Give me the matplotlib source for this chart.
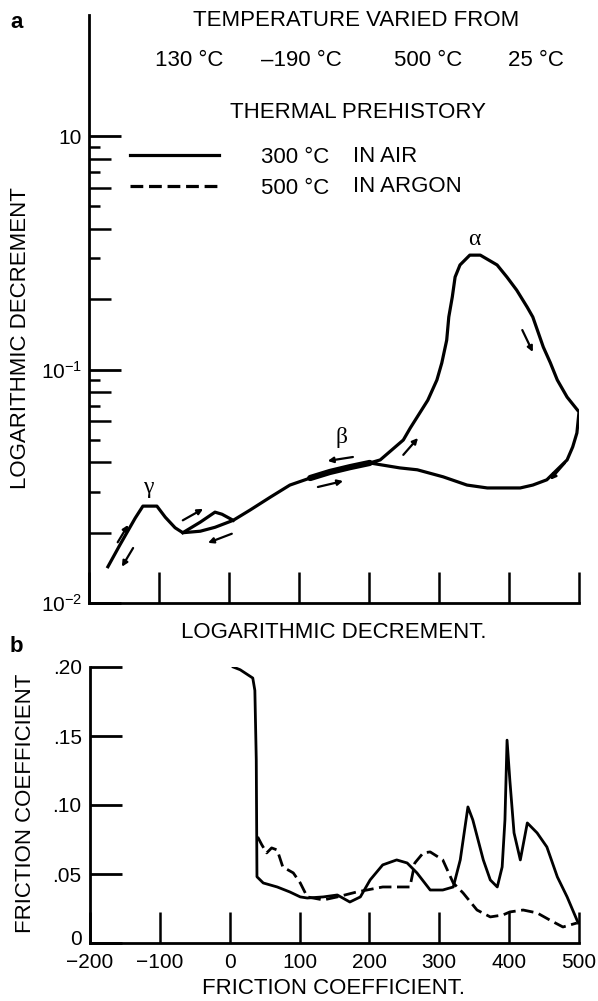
import matplotlib.pyplot as plt
import matplotlib.transforms as mtransforms

plt.rcParams['font.family'] = ['Liberation Sans', 'DejaVu Sans']
plt.rcParams['mathtext.fontset'] = 'custom'
plt.rcParams['mathtext.rm'] = 'Liberation Sans'

# (a) logarithmic decrement vs temperature, main loop (warming then cooling back)
loop_T = [-173, -156, -134, -123, -103, -91, -77, -66, -41, -20, 6, 30, 59, 87,
          116, 144, 173, 201, 216, 249, 259, 284, 297, 304, 311, 314, 319, 323,
          330, 344, 359, 383, 397, 411, 426, 434, 449, 459, 469, 483, 500, 497,
          491, 483, 454, 434, 416, 369, 340, 306, 269, 244, 201]
loop_d = [0.0143, 0.0177, 0.0231, 0.0260, 0.0260, 0.0233, 0.0210, 0.0200, 0.0203,
          0.0211, 0.0226, 0.0250, 0.0284, 0.0320, 0.0343, 0.0364, 0.0382, 0.0398,
          0.0410, 0.0499, 0.0562, 0.0739, 0.0902, 0.1067, 0.1336, 0.168, 0.2046,
          0.249, 0.2805, 0.309, 0.309, 0.2805, 0.249, 0.2188, 0.185, 0.1679,
          0.1248, 0.107, 0.0902, 0.0762, 0.0658, 0.0535, 0.0466, 0.0410, 0.0337,
          0.0320, 0.0311, 0.0311, 0.0320, 0.0347, 0.0372, 0.0379, 0.0398]
# small side branch after gamma peak
bump_T = [-66, -41, -20, -10, 6]
bump_d = [0.0200, 0.0222, 0.0245, 0.0240, 0.0226]

# direction arrows (start T, start d, end T, end d)
arrows = [(-159, 0.0182, -144, 0.0216), (-137, 0.0172, -153, 0.0143),
          (-66, 0.0226, -37, 0.0253), (4, 0.0198, -30, 0.0181),
          (177, 0.0422, 141, 0.0406), (127, 0.0314, 163, 0.0333),
          (249, 0.0431, 270, 0.0509), (419, 0.1476, 434, 0.1189),
          (480, 0.0398, 459, 0.0337)]

peak_names = ['γ', 'β', 'α']
peak_T = [-116, 161, 351]
peak_d = [0.0311, 0.0514, 0.359]

# (b) friction coefficient vs temperature
air_T = [5, 15, 33, 36, 38, 39, 48, 68, 86, 101, 111, 134, 154, 172, 187, 201,
         219, 239, 254, 268, 287, 305, 320, 330, 341, 348, 363, 373, 383, 390,
         394, 397, 401, 407, 416, 426, 440, 454, 469, 483, 497, 499]
air_f = [0.200, 0.198, 0.192, 0.183, 0.133, 0.048, 0.0435, 0.0406, 0.0370,
         0.0334, 0.0326, 0.0334, 0.0348, 0.0297, 0.0334, 0.0457, 0.0566, 0.0602,
         0.0580, 0.0508, 0.0384, 0.0384, 0.0406, 0.0602, 0.0986, 0.0892, 0.0602,
         0.0457, 0.0406, 0.0551, 0.0892, 0.147, 0.118, 0.0798, 0.0602, 0.0870,
         0.0798, 0.0696, 0.0479, 0.0334, 0.0167, 0.0145]
argon_T = [40, 46, 53, 60, 68, 76, 91, 101, 111, 134, 154, 182, 219, 258, 265,
           277, 287, 305, 320, 334, 354, 373, 391, 401, 420, 440, 458, 477, 497]
argon_f = [0.0769, 0.0711, 0.0653, 0.0689, 0.0674, 0.0551, 0.0508, 0.0435,
           0.0334, 0.0312, 0.0334, 0.0370, 0.0406, 0.0406, 0.0580, 0.0653,
           0.0660, 0.0602, 0.0435, 0.0363, 0.0239, 0.0189, 0.0203, 0.0225,
           0.0239, 0.0218, 0.0167, 0.0116, 0.0145]

temp_ticks = [-200, -100, 0, 100, 200, 300, 400, 500]
fric_ticks = [0, 0.05, 0.10, 0.15, 0.20]
fric_labels = ['0', '.05', '.10', '.15', '.20']
dec_even = [0.02, 0.04, 0.06, 0.08, 0.2, 0.4, 0.6, 0.8]
dec_odd = [0.03, 0.05, 0.07, 0.09, 0.3, 0.5, 0.7, 0.9]

FS = 16   # text
TS = 15   # tick labels
fig = plt.figure(figsize=(5.98, 10.01), dpi=100)

# ---------- panel a ----------
ax = fig.add_axes([89/598, 1 - 603/1001, 490/598, 588/1001])
ax.set_yscale('log')
ax.plot(loop_T, loop_d, color='black', lw=2.3, solid_joinstyle='round')
ax.plot(loop_T[14:18], loop_d[14:18], color='black', lw=4.5, solid_capstyle='round')
ax.plot(bump_T, bump_d, color='black', lw=2.3)
for t0, d0, t1, d1 in arrows:
    ax.annotate('', xy=(t1, d1), xytext=(t0, d0),
                arrowprops=dict(arrowstyle='-|>', lw=1.6, color='black',
                                mutation_scale=8, shrinkA=0, shrinkB=0))
for name, t, d in zip(peak_names, peak_T, peak_d):
    ax.text(t, d, name, family='Liberation Serif', fontsize=FS + 1,
            ha='center', va='center')

for s in ['top', 'right']:
    ax.spines[s].set_visible(False)
for s in ['left', 'bottom']:
    ax.spines[s].set_linewidth(2)

ax.set_xticks(temp_ticks, labels=[])
ax.tick_params(axis='x', direction='in', length=22, width=1.8)
ax.set_yticks([0.01, 0.1, 1], labels=[r'$\mathregular{10^{-2}}$',
                                      r'$\mathregular{10^{-1}}$', '10'])
ax.set_yticks(dec_even, minor=True)
ax.set_yticklabels([], minor=True)
ax.tick_params(axis='y', which='major', direction='in', length=23, width=2,
               labelsize=TS, pad=5)
ax.tick_params(axis='y', which='minor', direction='in', length=16, width=1.8)
ax.set_xlim(-200, 500)
ax.set_ylim(0.01, 3.3)
sec = ax.secondary_yaxis('left')
sec.spines['left'].set_visible(False)
sec.set_yticks(dec_odd, labels=[])
sec.set_yticks([], minor=True)
sec.tick_params(axis='y', direction='in', length=8, width=1.8)

leg = ax.legend(handles=[plt.Line2D([], [], color='black', lw=2.3),
                         plt.Line2D([], [], color='black', lw=2.3,
                                    linestyle=(0, (4, 1.8)))],
                labels=['300 °C', '500 °C'], frameon=False, fontsize=FS,
                loc='upper left', bbox_to_anchor=(130/598, 1 - 147/1001),
                bbox_transform=fig.transFigure, borderpad=0, borderaxespad=0,
                handlelength=4.0, handletextpad=1.9, labelspacing=0.45)
fig.text(353/598, 1 - 157/1001, 'IN AIR', fontsize=FS, va='center')
fig.text(353/598, 1 - 186/1001, 'IN ARGON', fontsize=FS, va='center')

fig.text(356/598, 1 - 21/1001, 'TEMPERATURE VARIED FROM', fontsize=FS,
         ha='center', va='center')
for lab, xc in zip(['130 °C', '–190 °C', '500 °C', '25 °C'], [189, 301, 428, 536]):
    fig.text(xc/598, 1 - 61/1001, lab, fontsize=FS, ha='center', va='center')
fig.text(358/598, 1 - 113/1001, 'THERMAL PREHISTORY', fontsize=FS,
         ha='center', va='center')
fig.text(21/598, 1 - 338/1001, 'LOGARITHMIC DECREMENT', fontsize=FS,
         rotation=90, ha='center', va='center')
fig.text(334/598, 1 - 632/1001, 'LOGARITHMIC DECREMENT.', fontsize=FS,
         ha='center', va='center')
fig.text(17/598, 1 - 22/1001, 'a', fontsize=FS, weight='bold',
         ha='center', va='center')

# ---------- panel b ----------
bx = fig.add_axes([90/598, 1 - 943/1001, 489/598, 276/1001])
bx.plot(air_T, air_f, color='black', lw=2.0)
bx.plot(argon_T, argon_f, color='black', lw=2.0, linestyle=(0, (4.5, 2)))
for s in ['top', 'right']:
    bx.spines[s].set_visible(False)
for s in ['left', 'bottom']:
    bx.spines[s].set_linewidth(2)
bx.set_xticks(temp_ticks)
bx.set_yticks(fric_ticks, labels=fric_labels)
bx.set_xlim(-200, 500)
bx.set_ylim(0, 0.2)
bx.tick_params(axis='x', direction='in', length=22, width=1.8, labelsize=TS, pad=7)
bx.tick_params(axis='y', direction='in', length=23, width=2, labelsize=TS, pad=6)
# lift the "0" label a little so it clears the "-200" label
zero_lab = bx.get_yticklabels()[0]
zero_lab.set_transform(zero_lab.get_transform() +
                       mtransforms.ScaledTranslation(0, 4/72, fig.dpi_scale_trans))
fig.text(26/598, 1 - 803/1001, 'FRICTION COEFFICIENT', fontsize=FS,
         rotation=90, ha='center', va='center')
fig.text(334/598, 1 - 988/1001, 'FRICTION COEFFICIENT.', fontsize=FS,
         ha='center', va='center')
fig.text(16/598, 1 - 647/1001, 'b', fontsize=FS, weight='bold',
         ha='center', va='center')

fig.savefig('out.png', dpi=100)
